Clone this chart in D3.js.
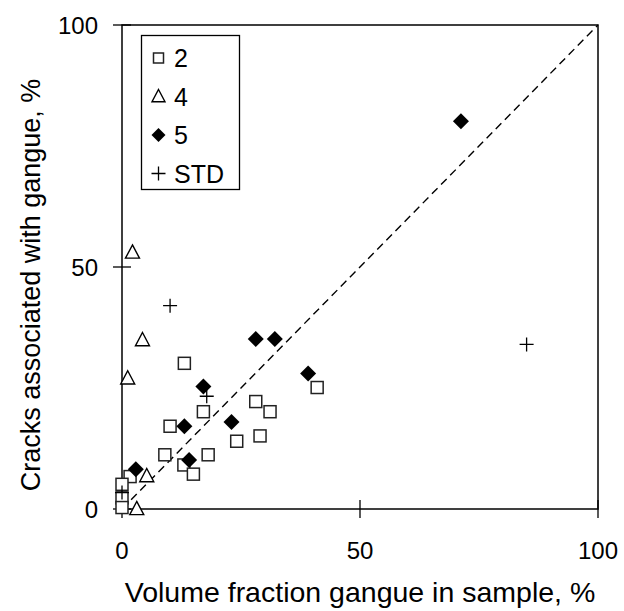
<!DOCTYPE html>
<html><head><meta charset="utf-8">
<script src="https://cdn.jsdelivr.net/npm/d3@7"></script>
<style>body{margin:0;background:#fff}svg{display:block}text{font-family:"Liberation Sans",Arial,sans-serif;fill:#000}</style>
</head><body><svg id="c" width="624" height="611"></svg>
<script>
const xTicks = [0, 50, 100];
const yTicks = [0, 50, 100];
const series2 = [[13.1,30.1],[28.1,22.2],[31.1,20.1],[17.1,20.1],[10.1,17.1],[29.0,15.1],[24.1,14.0],[18.1,11.2],[9.0,11.2],[13.0,9.1],[15.0,7.2],[1.7,6.7],[0,5.1],[0,2.3],[0,0.3],[41.0,25.1]];
const series4 = [[2.2,53.0],[4.3,34.9],[1.2,27.0],[5.2,6.8],[3.1,0]];
const series5 = [[28.1,35.1],[32.1,35.1],[17.1,25.3],[23.0,18.0],[13.1,17.1],[14.1,10.1],[2.9,8.2],[39.1,28.0],[71.2,80.1]];
const seriesSTD = [[10.1,42.0],[17.8,23.3],[85.0,34.0],[0,3.4]];
const legendLabels = ["2","4","5","STD"];

const svg = d3.select("#c");
const x = d3.scaleLinear().domain([0,100]).range([122,598]);
const y = d3.scaleLinear().domain([0,100]).range([509,25]);

svg.append("rect").attr("x",x(0)).attr("y",y(100)).attr("width",x(100)-x(0)).attr("height",y(0)-y(100))
  .attr("fill","none").attr("stroke","#000").attr("stroke-width",1.5);

svg.selectAll(".yt").data(yTicks).enter().append("line")
  .attr("x1",x(0)-9).attr("x2",x(0)+9).attr("y1",d=>y(d)).attr("y2",d=>y(d)).attr("stroke","#000").attr("stroke-width",1.3);
svg.selectAll(".xt").data(xTicks).enter().append("line")
  .attr("y1",y(0)-9).attr("y2",y(0)+9).attr("x1",d=>x(d)).attr("x2",d=>x(d)).attr("stroke","#000").attr("stroke-width",1.3);

svg.selectAll(".ytl").data(yTicks).enter().append("text")
  .attr("x",x(0)-24).attr("y",d=>y(d)).attr("dy","0.36em").attr("text-anchor","end").attr("font-size",24).text(d=>d);
svg.selectAll(".xtl").data(xTicks).enter().append("text")
  .attr("x",d=>x(d)).attr("y",550).attr("dy","0.36em").attr("text-anchor","middle").attr("font-size",24).text(d=>d);

svg.append("text").attr("x",360).attr("y",592).attr("dy","0.36em").attr("text-anchor","middle").attr("font-size",28.5)
  .text("Volume fraction gangue in sample, %");
svg.append("text").attr("transform","translate(30,285) rotate(-90)").attr("dy","0.36em").attr("text-anchor","middle").attr("font-size",27)
  .text("Cracks associated with gangue, %");

svg.append("line").attr("x1",x(0)).attr("y1",y(0)).attr("x2",x(100)).attr("y2",y(100))
  .attr("stroke","#000").attr("stroke-width",1.4).attr("stroke-dasharray","8,5");

function drawSquare(g, s){ g.append("rect").attr("x",-s/2).attr("y",-s/2).attr("width",s).attr("height",s).attr("fill","#fff").attr("stroke","#222").attr("stroke-width",1.5); }
function drawTri(g, s){ const h=s*0.9; g.append("path").attr("d",`M0,${-h*0.6}L${s/2},${h*0.45}L${-s/2},${h*0.45}Z`).attr("fill","#fff").attr("stroke","#000").attr("stroke-width",1.4); }
function drawDia(g, s){ g.append("path").attr("d",`M0,${-s/2}L${s/2},0L0,${s/2}L${-s/2},0Z`).attr("fill","#000"); }
function drawPlus(g, s){ g.append("path").attr("d",`M${-s/2},0H${s/2}M0,${-s/2}V${s/2}`).attr("stroke","#000").attr("stroke-width",1.3).attr("fill","none"); }

const pts = svg.append("g");
series2.forEach(d=>drawSquare(pts.append("g").attr("transform",`translate(${x(d[0])},${y(d[1])})`),12));
series4.forEach(d=>drawTri(pts.append("g").attr("transform",`translate(${x(d[0])},${y(d[1])})`),14));
series5.forEach(d=>drawDia(pts.append("g").attr("transform",`translate(${x(d[0])},${y(d[1])})`),16));
seriesSTD.forEach(d=>drawPlus(pts.append("g").attr("transform",`translate(${x(d[0])},${y(d[1])})`),14));

const lg = svg.append("g");
lg.append("rect").attr("x",141.5).attr("y",35.5).attr("width",98).attr("height",154).attr("fill","#fff").attr("stroke","#000").attr("stroke-width",1.3);
const drawers = [g=>drawSquare(g,10), g=>drawTri(g,13), g=>drawDia(g,14), g=>drawPlus(g,14)];
legendLabels.forEach((t,i)=>{
  const cy = 58 + i*38.5;
  drawers[i](lg.append("g").attr("transform",`translate(158.5,${cy})`));
  lg.append("text").attr("x",174).attr("y",cy).attr("dy","0.36em").attr("font-size",25).text(t);
});
</script></body></html>
